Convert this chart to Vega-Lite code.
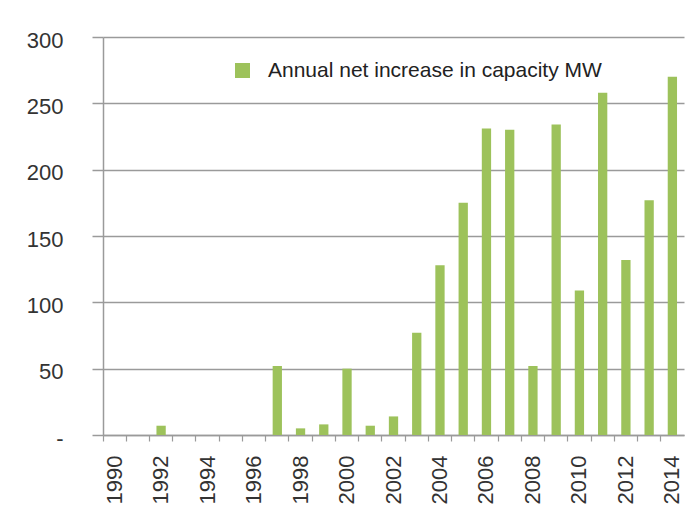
{
  "$schema": "https://vega.github.io/schema/vega-lite/v6.json",
  "width": 581,
  "height": 398,
  "autosize": {"type": "none"},
  "padding": {"left": 103, "top": 37, "right": 3, "bottom": 83},
  "background": "white",
  "config": {"view": {"stroke": null}, "font": "Liberation Sans"},
  "data": {"values": [
    {"year": 1990, "mw": 0}, {"year": 1991, "mw": 0}, {"year": 1992, "mw": 7},
    {"year": 1993, "mw": 0}, {"year": 1994, "mw": 0}, {"year": 1995, "mw": 0},
    {"year": 1996, "mw": 0}, {"year": 1997, "mw": 52}, {"year": 1998, "mw": 5},
    {"year": 1999, "mw": 8}, {"year": 2000, "mw": 50}, {"year": 2001, "mw": 7},
    {"year": 2002, "mw": 14}, {"year": 2003, "mw": 77}, {"year": 2004, "mw": 128},
    {"year": 2005, "mw": 175}, {"year": 2006, "mw": 231}, {"year": 2007, "mw": 230},
    {"year": 2008, "mw": 52}, {"year": 2009, "mw": 234}, {"year": 2010, "mw": 109},
    {"year": 2011, "mw": 258}, {"year": 2012, "mw": 132}, {"year": 2013, "mw": 177},
    {"year": 2014, "mw": 270}
  ]},
  "mark": {"type": "bar", "width": {"band": 0.4}},
  "encoding": {
    "x": {
      "field": "year", "type": "ordinal",
      "scale": {"paddingInner": 0, "paddingOuter": 0},
      "axis": {
        "title": null, "bandPosition": 0, "labelOffset": 0, "labelAngle": -90,
        "labelExpr": "datum.value % 2 == 0 ? datum.label : ''",
        "tickSize": 6, "tickColor": "#9a9a9a", "tickWidth": 1.2,
        "domainColor": "#9a9a9a", "domainWidth": 1.5,
        "labelFontSize": 22, "labelColor": "#333333", "labelPadding": 14, "grid": false
      }
    },
    "y": {
      "field": "mw", "type": "quantitative",
      "scale": {"domain": [0, 300], "nice": false},
      "axis": {
        "title": null, "values": [0, 50, 100, 150, 200, 250, 300],
        "labelExpr": "datum.value == 0 ? '-\u00a0\u00a0' : datum.label",
        "tickSize": 11, "tickColor": "#9a9a9a", "tickWidth": 1.5,
        "domainColor": "#9a9a9a", "domainWidth": 1.5,
        "grid": true, "gridColor": "#9a9a9a", "gridWidth": 1.5,
        "labelFontSize": 22, "labelColor": "#333333", "labelPadding": 29, "labelOffset": 3
      }
    },
    "color": {
      "datum": "Annual net increase in capacity MW",
      "scale": {"range": ["#9dc25b"]},
      "legend": {
        "title": null, "orient": "none", "legendX": 129, "legendY": 23, "padding": 0,
        "symbolType": "square", "symbolSize": 225, "symbolStrokeWidth": 0,
        "labelFontSize": 21, "labelColor": "#222222", "labelOffset": 15, "labelLimit": 0
      }
    }
  }
}
